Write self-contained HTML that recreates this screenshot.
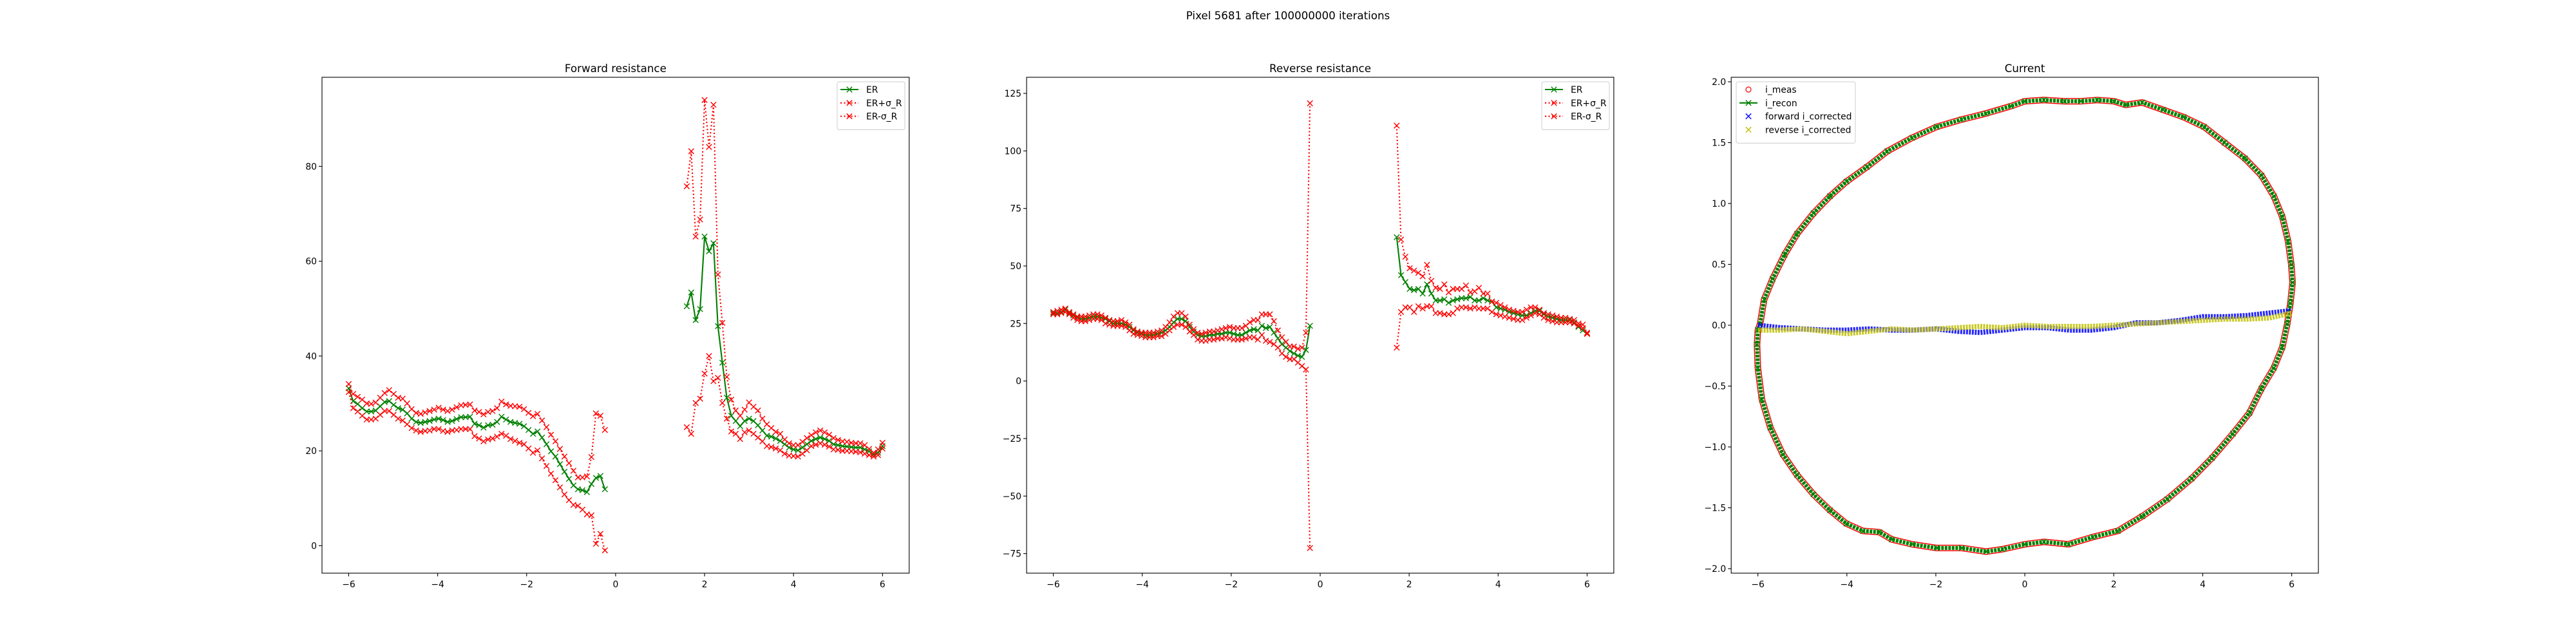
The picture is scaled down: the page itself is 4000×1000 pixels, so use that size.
<!DOCTYPE html>
<html><head><meta charset="utf-8"><title>Pixel 5681</title>
<style>
html,body{margin:0;padding:0;background:#fff;}
svg{display:block;font-family:"DejaVu Sans","Liberation Sans",sans-serif;}
</style></head>
<body>
<svg id="fig" width="4000" height="1000" viewBox="0 0 4000 1000" xmlns="http://www.w3.org/2000/svg">
<rect x="0" y="0" width="4000" height="1000" fill="#fff"/>
<text x="2000" y="30" text-anchor="middle" font-size="16.7" fill="#000">Pixel 5681 after 100000000 iterations</text>
</svg>
<script>
// ---------- Forward resistance data ----------
const fwdLeftXStart = -6, fwdLeftXEnd = -0.24;
const fwdLeftER = [33.2,30.5,29.9,29,28.3,28.3,28.5,29.4,30.3,30.5,29.7,29,28.7,27.9,26.8,26.1,25.9,26.1,26.3,26.6,26.8,26.5,26.1,26.3,26.7,27.1,27.1,27.2,25.7,25.4,24.9,25.4,25.5,26.1,27.2,26.6,26.1,25.9,25.7,25.2,24.4,23.6,24.1,22.8,21.4,19.9,18.8,17.2,15.6,14.1,12.7,11.9,11.7,11.3,13,14.3,14.7,11.9];
const fwdLeftUp = [34.1,32,31.4,30.8,30,29.9,30.2,31.2,32.2,32.8,32,31.2,31,30,28.8,28,27.8,28.1,28.4,28.7,29.1,28.7,28.4,28.7,29.2,29.6,29.7,29.8,28.5,28.2,27.7,28.2,28.4,29,30.4,29.8,29.5,29.4,29.3,28.8,28,27.3,27.8,26.4,25,23.4,22,20.4,18.8,17.4,15.8,14.4,14.4,14.6,18.7,27.9,27.4,24.4];
const fwdLeftLo = [32.4,29,28.3,27.4,26.6,26.6,26.8,27.6,28.4,28.4,27.6,26.8,26.4,25.6,24.8,24.3,24,24.2,24.3,24.6,24.6,24.2,24,24.3,24.4,24.6,24.6,24.6,23.1,22.6,22,22.4,22.6,23,23.6,23.2,22.5,22.1,21.7,21.4,20.5,19.6,20.1,18.4,16.8,15.2,13.8,12.3,10.8,9.6,8.6,8.4,7.6,6.6,6.4,0.4,2.5,-1];
const fwdRightXStart = 1.6, fwdRightXEnd = 6;
const fwdRightER = [50.5,53.4,47.6,49.9,65.2,62.1,63.8,46.3,38.6,31.2,27.4,26.3,25.2,26.3,26.8,26.3,25.4,24.3,23.2,23,22.6,22.1,21.4,20.7,20.3,20.1,20.7,21.4,22.1,22.5,22.8,22.5,22.1,21.4,21.2,21,20.9,20.8,20.7,20.7,20.3,19.9,19.2,19.6,21];
const fwdRightUp = [75.8,83.2,65.2,68.8,94,84.1,93,57.2,47,35.6,30.8,28.5,27.4,28.7,30.2,29.3,28.5,26.8,25.6,24.8,24,23.6,22.4,21.6,21.2,21.2,21.9,22.7,23.3,23.9,24.3,23.9,23.4,22.7,22.3,22,21.9,21.7,21.6,21.6,21.2,20.4,19.6,20.3,21.7];
const fwdRightLo = [25,23.6,30.1,31,36.3,40,34.7,35.4,30.1,26.8,24.1,23.6,22.5,23.9,24.3,23.6,22.8,22,21,20.8,20.5,20.1,19.4,19,18.9,18.8,19.4,20.1,21,21.3,21.6,21.3,20.9,20.3,20.2,20,20,19.9,19.8,19.7,19.4,19.1,18.8,19.1,20.5];
const fwdYTicks = [0,20,40,60,80];

// ---------- Reverse resistance data ----------
const revLeftXStart = -6, revLeftXEnd = -0.23;
const revLeftER = [29.5,29.5,30,31,29.5,28.5,27.5,27,27,27.5,28,28,27.5,27,26,25,25,25,24.5,23.5,22,21,20.5,20,20,20,20.5,21,22,23.5,25.5,27,27,26,23.5,21.5,20,19.5,19.5,20,20,20.5,20.5,21,21,20.5,20,20,21,22,22.5,22,24,23,23.5,21,18.5,16,14.5,13,12,11,10.5,13.5,24];
const revLeftUp = [30,30.5,31,31.5,30,29,28,28,28,28.5,29,29,28.5,27.5,26.5,26,26,26.5,25.5,24.5,22.5,21.5,21,21,21,21,21.5,22,23.5,25.5,28,29.5,29.5,28,24.5,22.5,21,20.5,21,21.5,21.5,22,22.5,23,23.5,23,23,23,24,25.5,26.5,26.5,29,29,29,26,22,19,17,15,15,14,14.5,21,120.7];
const revLeftLo = [29,29,29.5,30,29,27.5,26.5,26,26,26.5,27,27,26.5,25,24.5,24,24,24,23.5,22,20.5,20,19.5,19,19,19,19.5,19.5,20.5,22,23.5,24.5,24.5,23.5,21.5,20,18,17.5,17.5,18,18,18.5,18.5,19,18.5,18,18,18,18.5,19,19,18,20,17.5,17,16,14.5,12,10.5,9.5,9.5,8,6.5,5,-72.6];
const revRightXStart = 1.72, revRightXEnd = 6;
const revRightER = [62.5,46,43,40,39.5,40,38,42,38,35,35,35.5,34,35,35.5,36,36,36.5,35,35,36,35,34.5,32,31.5,31,30,29.5,29,28.5,28.5,29.5,30.5,30.5,29,28,27.5,27,26.5,26.5,26.5,25.5,23.5,22,20.5];
const revRightUp = [111,61.5,54,49,48,47,45.5,50.5,43.5,40.5,40,42,38.5,40,40,40,41.5,38.5,39,40.5,38,38,34.5,34,33,32,31,30.5,30,30,31,32,32,31,29.5,29,28.5,28,27.5,27.5,27,26.5,25,24.5,21];
const revRightLo = [14.5,30,32,32,30,32.5,31.5,32.5,32.5,29.5,29.5,29,29,29.5,31.5,32,32,31.5,32,31.5,31.5,31.5,30,29,28.5,28,27.5,27,26.5,26.5,27.5,28.5,29.5,29,27.5,26.5,26,25.5,25.5,25.5,25.5,25,24,23,20.5];
const revYTicks = [-75,-50,-25,0,25,50,75,100,125];

// ---------- Current data ----------
const loopV = [-5.95,-5.86,-5.67,-5.40,-5.12,-4.75,-4.38,-4.01,-3.55,-3.09,-2.53,-1.98,-1.42,-0.87,-0.31,0,0.43,0.89,1.26,1.63,2.0,2.27,2.64,3.11,3.57,4.03,4.49,4.95,5.32,5.60,5.79,5.92,5.99,6.02,5.97,5.90,5.79,5.60,5.32,5.05,4.68,4.21,3.75,3.20,2.64,2.09,1.53,0.98,0.43,0,-0.50,-0.87,-1.42,-1.98,-2.53,-2.99,-3.27,-3.64,-4.01,-4.38,-4.75,-5.12,-5.44,-5.72,-5.91,-6.0,-6.02,-6.0];
const loopI = [0.01,0.21,0.38,0.58,0.75,0.92,1.06,1.18,1.30,1.43,1.54,1.63,1.69,1.74,1.80,1.84,1.85,1.84,1.84,1.85,1.84,1.81,1.83,1.77,1.71,1.63,1.50,1.37,1.23,1.06,0.89,0.69,0.50,0.35,0.18,0.01,-0.18,-0.35,-0.52,-0.72,-0.89,-1.09,-1.26,-1.43,-1.57,-1.69,-1.74,-1.80,-1.78,-1.80,-1.84,-1.86,-1.83,-1.83,-1.80,-1.76,-1.70,-1.69,-1.63,-1.52,-1.39,-1.23,-1.06,-0.84,-0.61,-0.35,-0.16,-0.04];
const corrV = [-6,-5.5,-5,-4.5,-4,-3.5,-3,-2.5,-2,-1.5,-1,-0.5,0,0.5,1,1.5,2,2.5,3,3.5,4,4.5,5,5.5,6];
const fwdCorr = [0.0,-0.02,-0.03,-0.04,-0.04,-0.03,-0.04,-0.04,-0.03,-0.05,-0.06,-0.04,-0.02,-0.02,-0.04,-0.04,-0.02,0.02,0.02,0.04,0.07,0.07,0.08,0.1,0.12];
const revCorr = [-0.04,-0.04,-0.03,-0.05,-0.07,-0.05,-0.03,-0.04,-0.03,-0.02,-0.01,-0.02,0.0,-0.01,-0.01,-0.01,0.0,0.01,0.02,0.03,0.04,0.05,0.05,0.06,0.1];
const curYTicks = [-2.0,-1.5,-1.0,-0.5,0.0,0.5,1.0,1.5,2.0];
const xTicks = [-6,-4,-2,0,2,4,6];

const NS = "http://www.w3.org/2000/svg";
const fig = document.getElementById('fig');
function mk(tag, attrs, parent){
  const e = document.createElementNS(NS, tag);
  for (const k in attrs) e.setAttribute(k, attrs[k]);
  (parent||fig).appendChild(e);
  return e;
}
function fmt(v, dec){
  const s = dec ? Math.abs(v).toFixed(dec) : String(Math.abs(v));
  return (v < 0 ? "\u2212" : "") + s;
}
function axes(name, left, top, w, h, xmin, xmax, ymin, ymax){
  const g = mk('g', {});
  
  
  const A = {g, left, top, w, h,
    sx: v => left + (v - xmin) / (xmax - xmin) * w,
    sy: v => top + h - (v - ymin) / (ymax - ymin) * h};
  const clip = mk('clipPath', {id: name + '-clip'}, g);
  mk('rect', {x: left, y: top, width: w, height: h}, clip);
  A.plot = mk('g', {'clip-path': 'url(#' + name + '-clip)'}, g);
  
  
  return A;
}
function frame(A, title, yTicks, yDec){
  const f = mk('rect', {x: A.left, y: A.top, width: A.w, height: A.h, fill: 'none', stroke: '#000', 'stroke-width': 1.1}, A.g);
  
  
  const t = mk('text', {x: A.left + A.w/2, y: A.top - 8, 'text-anchor': 'middle', 'font-size': 16.7}, A.g);
  t.textContent = title;
  
  
  for (const v of xTicks){
    const x = A.sx(v);
    const tk = mk('line', {x1: x, x2: x, y1: A.top + A.h, y2: A.top + A.h + 5, stroke: '#000', 'stroke-width': 1.1}, A.g);
    
    
    const lb = mk('text', {x: x, y: A.top + A.h + 22, 'text-anchor': 'middle', 'font-size': 13.9}, A.g);
    lb.textContent = fmt(v, 0);
    
    
  }
  for (const v of yTicks){
    const y = A.sy(v);
    const tk = mk('line', {x1: A.left - 5, x2: A.left, y1: y, y2: y, stroke: '#000', 'stroke-width': 1.1}, A.g);
    
    
    const lb = mk('text', {x: A.left - 8, y: y + 5, 'text-anchor': 'end', 'font-size': 13.9}, A.g);
    lb.textContent = fmt(v, yDec);
    
    
  }
}
function xpath(x, y, s){
  return 'M' + (x-s) + ' ' + (y-s) + 'L' + (x+s) + ' ' + (y+s) + 'M' + (x-s) + ' ' + (y+s) + 'L' + (x+s) + ' ' + (y-s);
}
function series(A, xs, ys, color, dotted, name){
  const pts = xs.map((x, i) => [A.sx(x), A.sy(ys[i])]);
  const line = mk('polyline', {points: pts.map(p => p[0].toFixed(1) + ',' + p[1].toFixed(1)).join(' '), fill: 'none', stroke: color, 'stroke-width': 2.1, 'stroke-dasharray': dotted ? '2.1,3.4' : 'none'}, A.plot);
  
  
  let d = '';
  for (const p of pts) d += xpath(p[0], p[1], 4.2);
  const m = mk('path', {d: d, fill: 'none', stroke: color, 'stroke-width': 1.4}, A.plot);
  
  
}
function xsFor(n, a, b){ const r = []; for (let i = 0; i < n; i++) r.push(a + (b - a) * i / (n - 1)); return r; }
function legend(x, y, w, entries){
  const g = mk('g', {});
  
  
  const box = mk('rect', {x: x, y: y, width: w, height: 12 + entries.length * 20.8, rx: 3, fill: '#fff', 'fill-opacity': 0.8, stroke: '#ccc', 'stroke-width': 1}, g);
  
  
  entries.forEach((e, i) => {
    const cy = y + 12 + i * 20.8;
    const eg = mk('g', {}, g);
    
    
    const mx = x + 19;
    if (e.line){
      mk('line', {x1: x + 5, x2: x + 33, y1: cy, y2: cy, stroke: e.color, 'stroke-width': 2.1, 'stroke-dasharray': e.dotted ? '2.1,3.4' : 'none'}, eg);
    }
    if (e.marker === 'x') mk('path', {d: xpath(mx, cy, 4.2), stroke: e.color, 'stroke-width': 1.4, fill: 'none'}, eg);
    if (e.marker === 'o') mk('circle', {cx: mx, cy: cy, r: 4, stroke: e.color, 'stroke-width': 1.2, fill: 'none'}, eg);
    const t = mk('text', {x: x + 45, y: cy + 5, 'font-size': 13.9}, eg);
    t.textContent = e.label;
  });
}

// ---------- Panel 1: Forward resistance ----------
const A1 = axes('forward-resistance-axes', 500, 120, 911.8, 770, -6.6, 6.6, -5.8, 98.8);
{
  const xl = xsFor(fwdLeftER.length, fwdLeftXStart, fwdLeftXEnd);
  const xr = xsFor(fwdRightER.length, fwdRightXStart, fwdRightXEnd);
  series(A1, xl, fwdLeftER, 'green', false, 'fwd-er-left');
  series(A1, xr, fwdRightER, 'green', false, 'fwd-er-right');
  series(A1, xl, fwdLeftUp, 'red', true, 'fwd-er-plus-sigma-left');
  series(A1, xr, fwdRightUp, 'red', true, 'fwd-er-plus-sigma-right');
  series(A1, xl, fwdLeftLo, 'red', true, 'fwd-er-minus-sigma-left');
  series(A1, xr, fwdRightLo, 'red', true, 'fwd-er-minus-sigma-right');
}
frame(A1, 'Forward resistance', fwdYTicks, 0);
legend(1300, 127, 105, [
  {label: 'ER', color: 'green', line: true, marker: 'x'},
  {label: 'ER+\u03c3_R', color: 'red', line: true, dotted: true, marker: 'x'},
  {label: 'ER-\u03c3_R', color: 'red', line: true, dotted: true, marker: 'x'}]);

// ---------- Panel 2: Reverse resistance ----------
const A2 = axes('reverse-resistance-axes', 1594.1, 120, 911.8, 770, -6.6, 6.6, -83.5, 132);
{
  const xl = xsFor(revLeftER.length, revLeftXStart, revLeftXEnd);
  const xr = xsFor(revRightER.length, revRightXStart, revRightXEnd);
  series(A2, xl, revLeftER, 'green', false, 'rev-er-left');
  series(A2, xr, revRightER, 'green', false, 'rev-er-right');
  series(A2, xl, revLeftUp, 'red', true, 'rev-er-plus-sigma-left');
  series(A2, xr, revRightUp, 'red', true, 'rev-er-plus-sigma-right');
  series(A2, xl, revLeftLo, 'red', true, 'rev-er-minus-sigma-left');
  series(A2, xr, revRightLo, 'red', true, 'rev-er-minus-sigma-right');
}
frame(A2, 'Reverse resistance', revYTicks, 0);
legend(2394, 127, 105, [
  {label: 'ER', color: 'green', line: true, marker: 'x'},
  {label: 'ER+\u03c3_R', color: 'red', line: true, dotted: true, marker: 'x'},
  {label: 'ER-\u03c3_R', color: 'red', line: true, dotted: true, marker: 'x'}]);

// ---------- Panel 3: Current ----------
const A3 = axes('current-axes', 2688.2, 120, 911.8, 770, -6.6, 6.6, -2.037, 2.037);
{
  const lp = loopV.map((v, i) => A3.sx(v).toFixed(1) + ',' + A3.sy(loopI[i]).toFixed(1)).join(' ');
  const band = mk('polygon', {points: lp, fill: 'none', stroke: 'red', 'stroke-width': 10, 'stroke-linejoin': 'round'}, A3.plot);
  
  
  const inner = mk('polygon', {points: lp, fill: 'none', stroke: '#fff', 'stroke-width': 7, 'stroke-linejoin': 'round'}, A3.plot);
  
  
  const gl = mk('polygon', {points: lp, fill: 'none', stroke: 'green', 'stroke-width': 6, 'stroke-linejoin': 'round', 'stroke-dasharray': '4,1.5'}, A3.plot);
  
  
  let d = '';
  loopV.forEach((v, i) => { d += xpath(A3.sx(v), A3.sy(loopI[i]), 4.2); });
  const gm = mk('path', {d: d, fill: 'none', stroke: 'green', 'stroke-width': 1.4}, A3.plot);
  
  

  const fp = corrV.map((v, i) => A3.sx(v).toFixed(1) + ',' + A3.sy(fwdCorr[i]).toFixed(1)).join(' ');
  const fl = mk('polyline', {points: fp, fill: 'none', stroke: 'blue', 'stroke-width': 8, 'stroke-opacity': 0.85, 'stroke-dasharray': '3,1.5'}, A3.plot);
  
  
  const rp = corrV.map((v, i) => A3.sx(v).toFixed(1) + ',' + A3.sy(revCorr[i]).toFixed(1)).join(' ');
  const rl = mk('polyline', {points: rp, fill: 'none', stroke: '#bfbf00', 'stroke-width': 8, 'stroke-opacity': 0.85, 'stroke-dasharray': '3,1.5'}, A3.plot);
  
  
}
frame(A3, 'Current', curYTicks, 1);
legend(2696, 127, 185, [
  {label: 'i_meas', color: 'red', marker: 'o'},
  {label: 'i_recon', color: 'green', line: true, marker: 'x'},
  {label: 'forward i_corrected', color: 'blue', marker: 'x'},
  {label: 'reverse i_corrected', color: '#bfbf00', marker: 'x'}]);
</script>
</body></html>
